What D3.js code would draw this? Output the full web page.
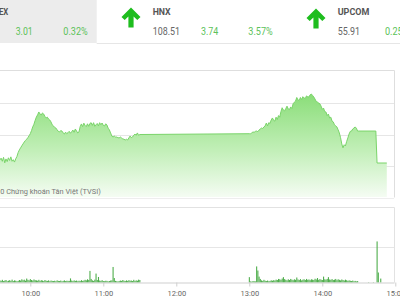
<!DOCTYPE html>
<html><head><meta charset="utf-8">
<script src="https://cdn.jsdelivr.net/npm/d3@7"></script>
<style>html,body{margin:0;padding:0;background:#fff;overflow:hidden}svg{display:block}</style>
</head><body>
<svg id="c" width="400" height="300"></svg>
<script>
// ---------- data ----------
const indexNames = ["VN-INDEX", "HNX", "UPCOM"];
const indexValues = [null, "108.51", "55.91"];
const indexChange = ["3.01", "3.74", null];
const indexPct = ["0.32%", "3.57%", "0.25%"];

const amStart = "09:35";           // price & volume per minute 09:35–11:30
const amPrice = [942.38,942.50,942.30,942.55,942.20,942.45,942.28,942.52,942.35,942.58,942.30,942.40,942.25,942.45,942.60,942.85,943.02,943.15,943.28,943.40,943.52,943.62,943.70,943.80,943.92,944.05,944.25,944.48,944.65,944.90,945.11,945.25,945.43,945.30,945.24,945.37,945.30,945.15,945.05,945.10,944.98,944.92,944.80,944.62,944.55,944.45,944.41,944.30,944.20,944.16,944.25,944.22,944.10,944.03,944.15,944.05,944.12,944.20,944.08,944.18,944.28,944.14,944.35,944.22,944.10,944.16,944.50,944.67,944.50,944.72,944.58,944.50,944.68,944.52,944.70,944.75,944.58,944.75,944.52,944.62,944.70,944.55,944.75,944.62,944.73,944.58,944.54,944.68,944.60,944.40,944.29,944.10,943.90,943.84,943.90,943.84,943.84,943.80,943.78,943.84,943.78,943.72,943.70,943.65,943.70,943.65,943.78,943.90,943.80,943.84,943.95,944.03,943.95,944.10,943.95,944.00];
const pmStart = "13:00";           // price per minute 13:00–14:30
const pmPrice = [944.05,944.05,944.10,944.16,944.14,944.20,944.22,944.18,944.28,944.35,944.41,944.38,944.48,944.54,944.73,944.55,944.75,944.70,944.92,945.05,944.90,944.85,945.10,944.95,945.20,945.10,945.45,945.70,945.55,945.50,945.65,945.80,945.62,945.58,945.75,945.65,945.95,946.05,946.12,946.35,946.20,946.15,946.35,946.22,946.40,946.32,946.28,946.45,946.40,946.38,946.52,946.57,946.48,946.38,946.25,946.10,946.06,946.00,945.95,945.80,945.60,945.68,945.45,945.43,945.20,945.30,945.05,945.10,944.85,944.80,944.62,944.55,944.48,944.30,944.10,943.80,943.40,943.15,943.35,943.27,943.55,943.78,944.03,944.20,944.22,944.35,944.41,944.48,944.40,944.22,944.22];
const atcTimes = ["14:44", "14:45", "14:53"];
const atcPrice = [944.22, 942.19, 942.19];

const amVolume = [120,90,150,80,110,140,70,100,130,90,160,80,120,100,70,
  90,140,110,180,130,160,100,220,150,120,190,140,110,170,130,
  120,100,150,90,130,110,80,140,100,90,120,70,110,90,80,
  100,70,120,90,80,110,70,90,120,80,100,90,90,230,110,
  80,120,90,110,70,100,80,130,90,110,150,120,180,140,650,
  200,120,90,160,500,140,310,110,90,130,80,70,100,90,60,
  80,110,120,870,250,90,70,60,80,110,90,140,100,80,120,
  90,130,100,110,80,150,90,120,100,160,140];
const pmVolume = [300,60,50,80,70,60,900,670,330,200,
  120,90,150,100,80,110,70,90,120,100,
  130,110,160,140,200,180,150,220,300,190,
  150,120,180,140,200,160,130,180,150,280,
  170,140,190,120,160,180,140,200,150,170,
  130,180,160,140,210,170,250,150,190,160,
  140,330,180,160,200,300,170,150,190,140,
  160,200,130,180,150,120,170,140,110,160,
  130,90,120,100,80,110,70,90,60,80];
const lateTimes = ["14:38", "14:42", "14:45", "14:46", "14:48"];
const lateVolume = [20, 20, 2300, 560, 220];

const tickTimes = ["10:00", "11:00", "12:00", "13:00", "14:00", "15:00"];
const priceGrid = [942, 944, 946];
const volumeGrid = [2000];
const footer = "© 2010 Chứng khoán Tân Việt (TVSI)";

// ---------- helpers ----------
const toMin = s => { const [h, m] = s.split(":").map(Number); return (h - 9) * 60 + m; };
const seq = (start, arr) => arr.map((v, i) => ({ t: toMin(start) + i, v }));

const priceData = [...seq(amStart, amPrice), ...seq(pmStart, pmPrice),
  ...atcTimes.map((s, i) => ({ t: toMin(s), v: atcPrice[i] }))];
const volData = [...seq(amStart, amVolume), ...seq(pmStart, pmVolume),
  ...lateTimes.map((s, i) => ({ t: toMin(s), v: lateVolume[i] }))];

const svg = d3.select("#c");
const x = d3.scaleLinear().domain([0, 360]).range([-42.7, 395.3]);
const y = d3.scaleLinear().domain([940, 948]).range([197.5, 71.5]);
const yv = d3.scaleLinear().domain([0, 4200]).range([282.5, 207.5]);

// ---------- header ----------
svg.append("rect").attr("x", 0).attr("y", 0).attr("width", 96.7).attr("height", 43).attr("fill", "#ececec");
svg.append("line").attr("x1", 96.7).attr("x2", 400).attr("y1", 43.5).attr("y2", 43.5).attr("stroke", "#e6e6e6");

const green = "#5cc25a";
function txt(str, xx, yy, w, opt) {
  const t = svg.append("text").attr("x", xx).attr("y", yy).text(str)
    .attr("font-family", "Roboto, 'Liberation Sans', sans-serif")
    .attr("font-size", opt.size).attr("font-weight", opt.bold ? 700 : 400)
    .attr("fill", opt.color);
  if (w) t.attr("textLength", w).attr("lengthAdjust", "spacingAndGlyphs");
  return t;
}
// VN-INDEX (cut off at left edge, as in the reference)
txt(indexNames[0], 8.3, 15, null, { size: 9.5, bold: true, color: "#555" }).attr("text-anchor", "end")
  .attr("transform", "translate(8.3,0) scale(0.82,1) translate(-8.3,0)");
txt(indexChange[0], 15.7, 35, 17, { size: 10.5, color: green });
txt(indexPct[0], 63.3, 35, 24.4, { size: 10.5, color: green });
txt(indexNames[1], 152.7, 15, 18, { size: 9.5, bold: true, color: "#555" });
txt(indexValues[1], 152.7, 35, 27.3, { size: 10.5, color: "#666" });
txt(indexChange[1], 201, 35, 17.3, { size: 10.5, color: green });
txt(indexPct[1], 248.3, 35, 24.4, { size: 10.5, color: green });
txt(indexNames[2], 337.7, 15, 31.6, { size: 9.5, bold: true, color: "#555" });
txt(indexValues[2], 337.7, 35, 22.3, { size: 10.5, color: "#666" });
txt(indexPct[2], 385, 35, 24.4, { size: 10.5, color: green });

function arrow(cx, top) {
  const g = svg.append("g").attr("transform", `translate(${cx},${top})`).attr("fill", "#1ebd1e").attr("stroke", "none");
  g.append("path").attr("d", "M0,0 L9.5,9.5 L6.3,12.6 L2.6,8.9 L2.6,20 L-2.6,20 L-2.6,8.9 L-6.3,12.6 L-9.5,9.5 Z");
}
arrow(131, 7.5);
arrow(316, 8.5);

// ---------- price panel ----------
const grad = svg.append("defs").append("linearGradient").attr("id", "g1")
  .attr("gradientUnits", "userSpaceOnUse").attr("x1", 0).attr("x2", 0).attr("y1", 90).attr("y2", 200);
grad.append("stop").attr("offset", 0).attr("stop-color", "#86dc74");
grad.append("stop").attr("offset", 0.55).attr("stop-color", "#c2efb8");
grad.append("stop").attr("offset", 1).attr("stop-color", "#f8fdf7");

svg.append("g").selectAll("line").data(priceGrid).join("line")
  .attr("x1", 0).attr("x2", 394).attr("y1", d => Math.round(y(d)) + 0.5).attr("y2", d => Math.round(y(d)) + 0.5)
  .attr("stroke", "#e6e6e6");
svg.append("path").attr("d", "M0,70.5 H394.5 V197.5").attr("fill", "none").attr("stroke", "#dedede");

const area = d3.area().x(d => x(d.t)).y0(197).y1(d => y(d.v));
const line = d3.line().x(d => x(d.t)).y(d => y(d.v));
svg.append("path").datum(priceData).attr("d", area).attr("fill", "url(#g1)");
svg.append("path").datum(priceData).attr("d", line).attr("fill", "none").attr("stroke", "#7ad46a").attr("stroke-width", 1);

svg.append("line").attr("x1", 0).attr("x2", 394).attr("y1", 198.5).attr("y2", 198.5).attr("stroke", "#eeeeee");
const ft = svg.append("text").attr("x", 100.7).attr("y", 194).attr("text-anchor", "end")
  .attr("font-family", "Roboto, 'Liberation Sans', sans-serif").attr("font-size", 8).attr("fill", "#777").text(footer);
const node = ft.node(), n = footer.length, vis = 29;
const wVis = node.getSubStringLength(n - vis, vis);
const s = 100.7 / wVis;
ft.attr("transform", `translate(100.7,0) scale(${s},1) translate(-100.7,0)`);

// ---------- volume panel ----------
svg.append("line").attr("x1", 0).attr("x2", 394.5).attr("y1", 207.5).attr("y2", 207.5).attr("stroke", "#e2e2e2");
svg.append("line").attr("x1", 394.5).attr("x2", 394.5).attr("y1", 207.5).attr("y2", 282.5).attr("stroke", "#e2e2e2");
svg.append("g").selectAll("line").data(volumeGrid).join("line")
  .attr("x1", 0).attr("x2", 394).attr("y1", d => Math.round(yv(d)) + 0.5).attr("y2", d => Math.round(yv(d)) + 0.5)
  .attr("stroke", "#e6e6e6");

svg.append("g").selectAll("rect").data(volData).join("rect")
  .attr("x", d => x(d.t) - 0.5).attr("width", 1.1)
  .attr("y", d => yv(d.v)).attr("height", d => yv(0) - yv(d.v))
  .attr("fill", "#4fae4c");

const xAxis = d3.axisBottom(x).tickValues(tickTimes.map(toMin))
  .tickFormat((d, i) => tickTimes[i]).tickSize(4).tickSizeOuter(0);
const ax = svg.append("g").attr("transform", "translate(0,282.5)").call(xAxis);
ax.select(".domain").attr("stroke", "#cfcfcf").attr("d", "M0,0.5H394.5");
ax.selectAll(".tick line").attr("stroke", "#cfcfcf");
ax.selectAll(".tick text").attr("font-family", "Roboto, 'Liberation Sans', sans-serif")
  .attr("font-size", 7.5).attr("fill", "#666").attr("dy", "0").attr("y", 13.3);
</script>
</body></html>
